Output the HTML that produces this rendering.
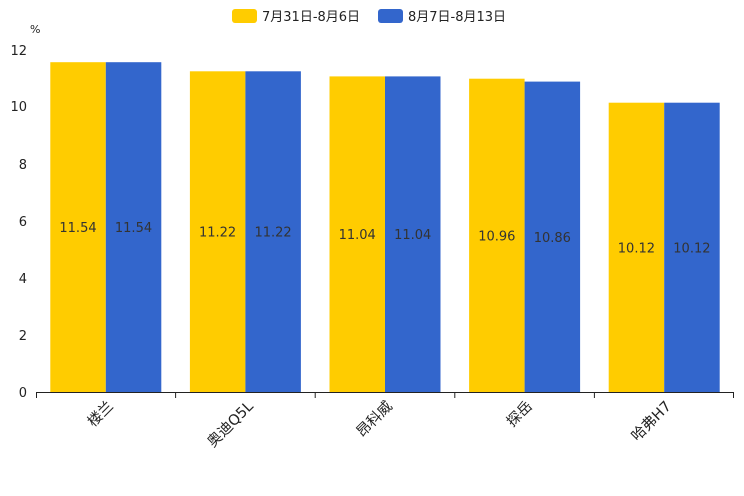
<!DOCTYPE html>
<html><head><meta charset="utf-8"><style>
html,body{margin:0;padding:0;background:#fff;}
svg{display:block;font-family:"DejaVu Sans","Noto Sans CJK SC",sans-serif;}
</style></head><body>
<svg width="744" height="496" viewBox="0 0 744 496" xmlns="http://www.w3.org/2000/svg">
<rect x="232" y="9" width="25" height="14" rx="3" fill="#ffcc00"/>
<text x="262" y="21" font-size="13" fill="#222">7月31日-8月6日</text>
<rect x="378" y="9" width="25" height="14" rx="3" fill="#3366cc"/>
<text x="408" y="21" font-size="13" fill="#222">8月7日-8月13日</text>
<text x="30" y="33" font-size="11" fill="#222">%</text>
<g font-size="13" fill="#222" text-anchor="end">
<text x="27" y="55">12</text>
<text x="27" y="111">10</text>
<text x="27" y="169">8</text>
<text x="27" y="226">6</text>
<text x="27" y="283">4</text>
<text x="27" y="340">2</text>
<text x="27" y="397">0</text>
</g>
<g fill="#ffcc00">
<rect x="50.3" y="62.2" width="55.5" height="329.8"/>
<rect x="189.9" y="71.3" width="55.5" height="320.7"/>
<rect x="329.5" y="76.4" width="55.5" height="315.6"/>
<rect x="469.1" y="78.7" width="55.5" height="313.3"/>
<rect x="608.7" y="102.7" width="55.5" height="289.3"/>
</g>
<g fill="#3366cc">
<rect x="105.8" y="62.2" width="55.5" height="329.8"/>
<rect x="245.4" y="71.3" width="55.5" height="320.7"/>
<rect x="385" y="76.4" width="55.5" height="315.6"/>
<rect x="524.6" y="81.6" width="55.5" height="310.4"/>
<rect x="664.2" y="102.7" width="55.5" height="289.3"/>
</g>
<g font-size="13" fill="#333" text-anchor="middle">
<text x="78" y="232">11.54</text><text x="133.5" y="232">11.54</text>
<text x="217.6" y="236.6">11.22</text><text x="273.1" y="236.6">11.22</text>
<text x="357.2" y="239.2">11.04</text><text x="412.7" y="239.2">11.04</text>
<text x="496.8" y="240.3">10.96</text><text x="552.3" y="241.8">10.86</text>
<text x="636.4" y="252.3">10.12</text><text x="691.9" y="252.3">10.12</text>
</g>
<line x1="36" y1="392.5" x2="734" y2="392.5" stroke="#222" stroke-width="1"/>
<g stroke="#222" stroke-width="1">
<line x1="36.5" y1="392" x2="36.5" y2="398"/>
<line x1="175.6" y1="392" x2="175.6" y2="398"/>
<line x1="315.2" y1="392" x2="315.2" y2="398"/>
<line x1="454.8" y1="392" x2="454.8" y2="398"/>
<line x1="594.4" y1="392" x2="594.4" y2="398"/>
<line x1="733.5" y1="392" x2="733.5" y2="398"/>
</g>
<g font-size="14.5" fill="#222" text-anchor="end">
<text transform="translate(114,407) rotate(-45)">楼兰</text>
<text transform="translate(254,407) rotate(-45)">奥迪Q5L</text>
<text transform="translate(393,407) rotate(-45)">昂科威</text>
<text transform="translate(533,407) rotate(-45)">探岳</text>
<text transform="translate(672,407) rotate(-45)">哈弗H7</text>
</g>
</svg>
</body></html>
